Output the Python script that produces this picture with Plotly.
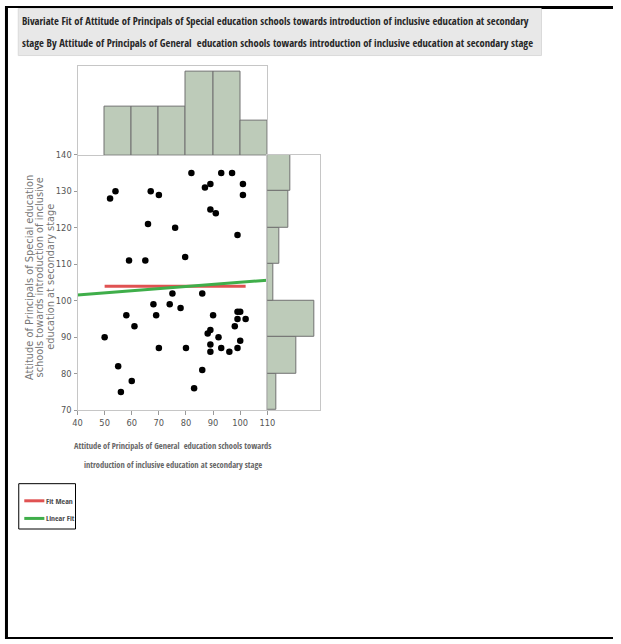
import numpy as np
import plotly.graph_objects as go

W, H = 621, 644

# Attitude scores of the 50 paired schools
general = [52, 54, 67, 70, 66, 59, 65, 76, 79.7, 82, 87, 89, 89, 91, 93, 97, 101, 101, 99,
           50, 55, 56, 58, 60, 61, 68, 69, 70, 74, 75, 78, 80, 83, 86, 86, 88, 89, 89, 89,
           90, 92, 93, 96, 98, 99, 99, 99, 100, 100, 102]
special = [128, 130, 130, 129, 121, 111, 111, 120, 112, 135, 131, 132, 125, 124, 135, 135, 132, 129, 118,
           90, 82, 75, 96, 78, 93, 99, 96, 87, 99, 102, 98, 87, 76, 102, 81, 91, 92, 88, 86,
           96, 90, 87, 86, 93, 95, 87, 97, 97, 89, 95]

x_ticks = [40, 50, 60, 70, 80, 90, 100, 110]
y_ticks = [70, 80, 90, 100, 110, 120, 130, 140]

title_lines = [
    "Bivariate Fit of Attitude of Principals of Special education schools towards introduction of inclusive education at secondary",
    "stage By Attitude of Principals of General  education schools towards introduction of inclusive education at secondary stage",
]
x_title_lines = [
    "Attitude of Principals of General  education schools towards",
    "introduction of inclusive education at secondary stage",
]
y_title_lines = [
    "Attitude of Principals of Special education",
    "schools towards introduction of inclusive",
    "education at secondary stage",
]
legend_names = ["Fit Mean", "Linear Fit"]

BAR_FILL = "#bdcbb9"
BAR_EDGE = "#707070"
FRAME = "#c6c6c6"
RED = "#e05252"
GREEN = "#3fae4a"
COND_BOLD = "Open Sans Condensed, DejaVu Sans Condensed, sans-serif"
COND = "DejaVu Sans Condensed, sans-serif"

# The page body keeps its 8px margin and the whole page is fitted to the
# window, so positions below are given in window pixels and mapped back.
BODY = 8
SX = W / (W + 2 * BODY)
SY = H / (H + 2 * BODY)
NUDGE_X = 2


def px_x(v):
    return min(max(((v + NUDGE_X) / SX - BODY) / W, 0.0), 1.0)


def px_y(v):
    return min(max(1 - (v / SY - BODY) / H, 0.0), 1.0)


def fs(size):
    return size / SX


x_arr = np.array(general, dtype=float)
y_arr = np.array(special, dtype=float)
y_mean = y_arr.mean()
slope, intercept = np.polyfit(x_arr, y_arr, 1)
fit_x = np.array([x_ticks[0], x_ticks[-1]], dtype=float)

fig = go.Figure()

# marginal histograms
fig.add_trace(go.Histogram(
    x=general, xbins=dict(start=40, end=110, size=10), xaxis="x2", yaxis="y2",
    marker=dict(color=BAR_FILL, line=dict(color=BAR_EDGE, width=1)), showlegend=False,
))
fig.add_trace(go.Histogram(
    y=special, ybins=dict(start=70, end=140, size=10), orientation="h", xaxis="x3", yaxis="y3",
    marker=dict(color=BAR_FILL, line=dict(color=BAR_EDGE, width=1)), showlegend=False,
))

# scatter and fits
fig.add_trace(go.Scatter(
    x=general, y=special, mode="markers",
    marker=dict(color="black", size=6.5), showlegend=False,
))
fig.add_trace(go.Scatter(
    x=[x_arr.min(), x_arr.max()], y=[y_mean, y_mean], mode="lines",
    line=dict(color=RED, width=3), name=legend_names[0], showlegend=False,
))
fig.add_trace(go.Scatter(
    x=fit_x, y=intercept + slope * fit_x, mode="lines",
    line=dict(color=GREEN, width=3), name=legend_names[1], showlegend=False,
))

main_x_dom = [px_x(78), px_x(267)]
main_y_dom = [px_y(409), px_y(155.5)]
tick_font = dict(family=COND, size=fs(9), color="#555555")
hidden = dict(showticklabels=False, ticks="", showline=True, linecolor=FRAME, mirror=True,
              showgrid=False, zeroline=False)

fig.update_layout(
    width=W, height=H, margin=dict(l=0, r=0, t=0, b=0),
    paper_bgcolor="white", plot_bgcolor="white", bargap=0,
    xaxis=dict(domain=main_x_dom, range=[40, 110], tickvals=x_ticks, ticks="outside", ticklen=4,
               tickcolor="#9a9a9a", showline=True, linecolor=FRAME, mirror=True,
               showgrid=False, zeroline=False, tickfont=tick_font, anchor="y"),
    yaxis=dict(domain=main_y_dom, range=[70, 140], tickvals=y_ticks, ticks="outside", ticklen=3,
               tickcolor="#9a9a9a", showline=True, linecolor=FRAME, mirror=True,
               showgrid=False, zeroline=False, tickfont=tick_font, anchor="x"),
    xaxis2=dict(domain=main_x_dom, range=[40, 110], anchor="y2", **hidden),
    yaxis2=dict(domain=[px_y(156), px_y(67)], range=[0, 12.9], anchor="x2", **hidden),
    xaxis3=dict(domain=[px_x(267), px_x(319)], range=[0, 17.8], anchor="y3", **hidden),
    yaxis3=dict(domain=main_y_dom, range=[70, 140], anchor="x3", **hidden),
)


def hline(x0, x1, y, color, width):
    return dict(type="line", xref="paper", yref="paper", x0=x0, x1=x1, y0=y, y1=y,
                line=dict(color=color, width=width))


shapes = [
    # page frame
    dict(type="line", xref="paper", yref="paper", x0=1.5 / W, x1=1.5 / W, y0=0, y1=1,
         line=dict(color="black", width=3)),
    hline(0, 1, 1 - 1 / H, "black", 2),
    hline(px_x(540), 1, 1 - 1.5 / H, "black", 3),
    hline(0, 1, 1 / H, "black", 2),
    # title band
    dict(type="rect", xref="paper", yref="paper", x0=px_x(19), x1=px_x(540),
         y0=px_y(57), y1=1 - 2.5 / H,
         fillcolor="#e8e8e8", line=dict(color="#dadada", width=1), layer="below"),
    # legend box and keys
    dict(type="rect", xref="paper", yref="paper", x0=px_x(19.5), x1=px_x(76), y0=px_y(527), y1=px_y(482),
         line=dict(color="black", width=1)),
    hline(px_x(25), px_x(45), px_y(499), RED, 3),
    hline(px_x(25), px_x(45), px_y(516.5), GREEN, 3),
]

annotations = []
for i, line in enumerate(title_lines):
    annotations.append(dict(
        text=line, xref="paper", yref="paper", x=px_x(20.5), y=px_y(22.5 + 21.7 * i),
        xanchor="left", yanchor="middle", showarrow=False,
        font=dict(family=COND_BOLD, size=fs(10.3), color="#262626", weight=700),
    ))
for i, line in enumerate(x_title_lines):
    annotations.append(dict(
        text=line, xref="paper", yref="paper", x=px_x(173), y=px_y(444 + 19 * i),
        xanchor="center", yanchor="middle", showarrow=False,
        font=dict(family=COND_BOLD, size=fs(8.2), color="#666666"),
    ))
for i, line in enumerate(y_title_lines):
    annotations.append(dict(
        text=line, xref="paper", yref="paper", x=px_x(29.5 + 10.4 * i), y=px_y(277),
        xanchor="center", yanchor="middle", showarrow=False, textangle=-90,
        font=dict(family="DejaVu Sans, sans-serif", size=fs(9.6), color="#767676"),
    ))
for i, name in enumerate(legend_names):
    annotations.append(dict(
        text=name, xref="paper", yref="paper", x=px_x(44.5), y=px_y(499 + 17.5 * i),
        xanchor="left", yanchor="middle", showarrow=False,
        font=dict(family=COND_BOLD, size=fs(7.6), color="#4a4a4a"),
    ))

fig.update_layout(shapes=shapes, annotations=annotations)
fig.write_html("out.html")
